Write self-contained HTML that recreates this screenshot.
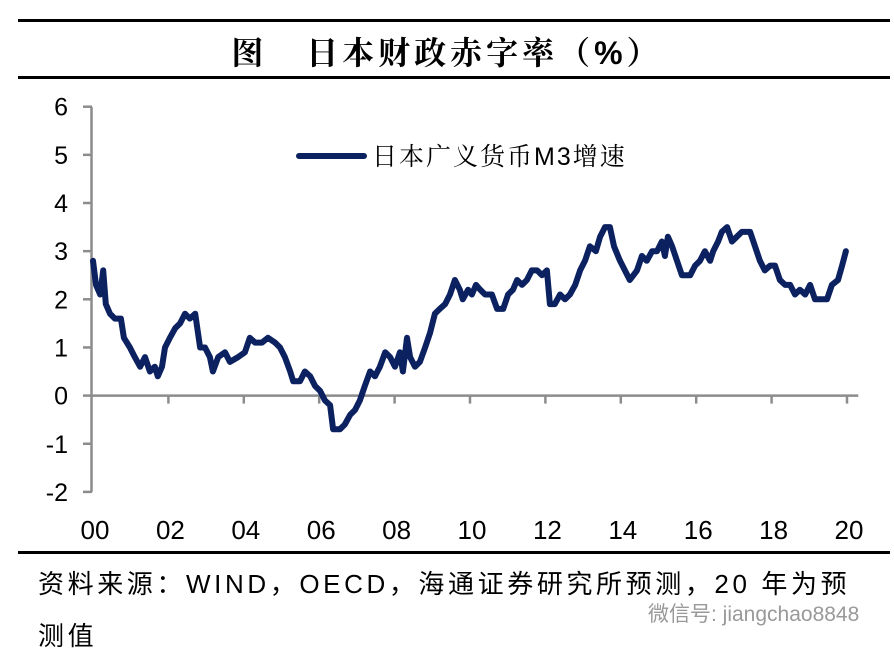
<!DOCTYPE html>
<html><head><meta charset="utf-8"><style>
html,body{margin:0;padding:0;background:#fff;}
body{width:894px;height:654px;overflow:hidden;position:relative;font-family:"Liberation Sans","Noto Sans CJK SC",sans-serif;}
.rule{position:absolute;left:18px;width:872px;height:3px;background:#000;}
.t{position:absolute;color:#000;white-space:nowrap;}
</style></head><body>
<div class="rule" style="top:19px"></div>
<div class="t" style="left:0;width:894px;text-align:center;top:28px;font-size:32px;letter-spacing:4px;font-weight:bold;font-family:'Liberation Sans','Noto Serif CJK SC',serif;">图&nbsp;&nbsp;&nbsp;日本财政赤字率（%）</div>
<div class="rule" style="top:76px"></div>
<svg id="chart" width="894" height="654" style="position:absolute;left:0;top:0"></svg>
<div class="rule" style="top:551px"></div>
<div class="t" style="left:38px;top:564px;font-size:26px;letter-spacing:3.6px;">资料来源：WIND，OECD，海通证券研究所预测，20 年为预</div>
<div class="t" style="left:38px;top:616px;font-size:26px;letter-spacing:3.6px;">测值</div>
<div class="t" style="left:648px;top:598px;font-size:21px;color:#999;">微信号: jiangchao8848</div>
<script>
const years=[0.00,.08,.19,.27,.34,.45,.58,.74,.82,.98,1.11,1.25,1.38,1.51,1.64,1.72,1.83,1.91,2.04,2.18,2.31,2.44,2.57,2.71,2.84,2.97,3.10,3.18,3.32,3.50,3.63,3.85,4.03,4.16,4.30,4.48,4.64,4.83,4.96,5.09,5.23,5.31,5.49,5.62,5.76,5.89,6.02,6.15,6.29,6.37,6.55,6.68,6.82,6.95,7.08,7.21,7.35,7.48,7.61,7.75,7.88,8.01,8.14,8.22,8.33,8.41,8.54,8.67,8.81,8.94,9.07,9.20,9.34,9.47,9.60,9.73,9.81,9.95,10.05,10.16,10.27,10.40,10.58,10.72,10.88,11.01,11.14,11.25,11.38,11.51,11.64,11.78,11.91,12.04,12.12,12.25,12.39,12.52,12.65,12.79,12.92,13.05,13.18,13.34,13.45,13.58,13.71,13.82,13.98,14.11,14.24,14.43,14.56,14.69,14.83,14.96,15.09,15.17,15.25,15.36,15.49,15.62,15.84,15.97,16.10,16.23,16.37,16.45,16.58,16.68,16.82,16.95,17.08,17.21,17.43,17.56,17.69,17.82,17.96,18.09,18.22,18.36,18.49,18.62,18.75,18.89,19.02,19.15,19.34,19.47,19.60,19.76,19.87,19.97];
const m3Growth=[2.8,2.3,2.1,2.6,1.9,1.7,1.6,1.6,1.2,1.0,0.8,0.6,0.8,0.5,0.6,0.4,0.6,1.0,1.2,1.4,1.5,1.7,1.6,1.7,1.0,1.0,0.8,0.5,0.8,0.9,0.7,0.8,0.9,1.2,1.1,1.1,1.2,1.1,1.0,0.8,0.5,0.3,0.3,0.5,0.4,0.2,0.1,-0.1,-0.2,-0.7,-0.7,-0.6,-0.4,-0.3,-0.1,0.2,0.5,0.4,0.6,0.9,0.8,0.6,0.9,0.5,1.2,0.8,0.6,0.7,1.0,1.3,1.7,1.8,1.9,2.1,2.4,2.2,2.0,2.2,2.1,2.3,2.2,2.1,2.1,1.8,1.8,2.1,2.2,2.4,2.3,2.4,2.6,2.6,2.5,2.6,1.9,1.9,2.1,2.0,2.1,2.3,2.6,2.8,3.1,3.0,3.3,3.5,3.5,3.1,2.8,2.6,2.4,2.6,2.9,2.8,3.0,3.0,3.2,2.9,3.3,3.1,2.8,2.5,2.5,2.7,2.8,3.0,2.8,3.0,3.2,3.4,3.5,3.2,3.3,3.4,3.4,3.1,2.8,2.6,2.7,2.7,2.4,2.3,2.3,2.1,2.2,2.1,2.3,2.0,2.0,2.0,2.3,2.4,2.7,3.0];
const yTicks=[6,5,4,3,2,1,0,-1,-2];
const xTickYears=[0,2,4,6,8,10,12,14,16,18,20];
const xLabels=["00","02","04","06","08","10","12","14","16","18","20"];
const seriesName="日本广义货币M3增速";
const NS="http://www.w3.org/2000/svg";
const svg=document.getElementById('chart');
const X=y=>93+y*37.7;
const Y=v=>395.6-v*48.15;
function mk(tag,attrs){const e=document.createElementNS(NS,tag);for(const k in attrs)e.setAttribute(k,attrs[k]);svg.appendChild(e);return e;}
let ax=mk('line',{x1:91.5,y1:Y(6),x2:91.5,y2:Y(-2),stroke:'#8c8c8c','stroke-width':2.5});


yTicks.forEach(v=>{
 const t=mk('line',{x1:83,y1:Y(v),x2:92,y2:Y(v),stroke:'#8c8c8c','stroke-width':2.5});
 
 
 const l=mk('text',{x:68,y:Y(v)+9,'text-anchor':'end','font-size':25,'font-family':'Liberation Sans, sans-serif'});
 l.textContent=v;
 
 
});
let xa=mk('line',{x1:91,y1:Y(0),x2:X(20.3),y2:Y(0),stroke:'#8c8c8c','stroke-width':2.5});


xTickYears.forEach((yr,i)=>{
 if(i>0){const t=mk('line',{x1:X(yr),y1:Y(0),x2:X(yr),y2:Y(0)+8,stroke:'#8c8c8c','stroke-width':2.5});
 
 }
 const l=mk('text',{x:X(yr)+2,y:539,'text-anchor':'middle','font-size':26,'font-family':'Liberation Sans, sans-serif'});
 l.textContent=xLabels[i];
 
 
});
const pts=years.map((y,i)=>X(y).toFixed(1)+','+Y(m3Growth[i]).toFixed(1)).join(' ');
const pl=mk('polyline',{points:pts,fill:'none',stroke:'#0b2160','stroke-width':6,'stroke-linejoin':'round','stroke-linecap':'round'});


const lg=mk('line',{x1:299,y1:156,x2:364,y2:156,stroke:'#0b2160','stroke-width':6,'stroke-linecap':'round'});


const lt=mk('text',{x:372,y:165,'font-size':25,'letter-spacing':2,'font-family':'Liberation Sans, Noto Serif CJK SC, serif'});
lt.textContent=seriesName;


</script>
</body></html>
